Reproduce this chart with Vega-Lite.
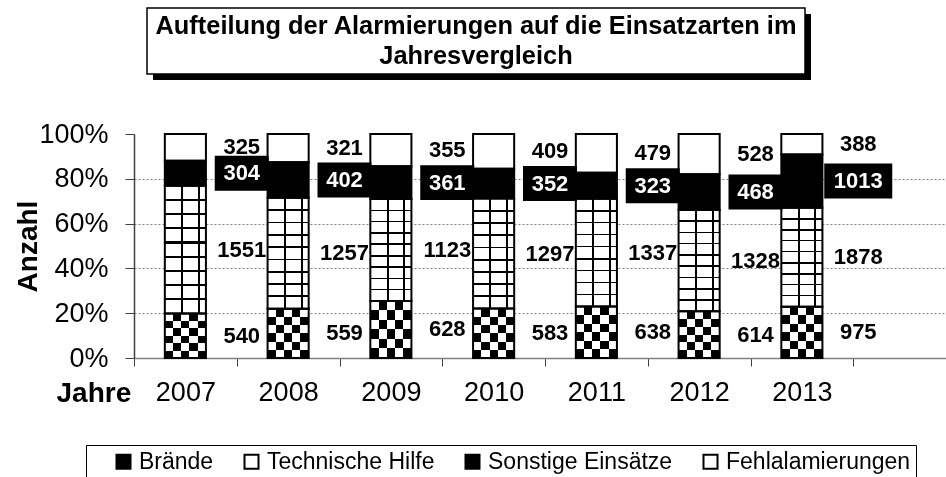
{
  "$schema": "https://vega.github.io/schema/vega-lite/v6.json",
  "background": "white",
  "padding": {"left": 13, "top": 7, "right": 0, "bottom": 0},
  "config": {"font": "Liberation Sans", "view": {"stroke": null}},
  "spacing": 40,
  "vconcat": [
    {
      "width": 680,
      "height": 66,
      "data": {"values": [{"t": 1}]},
      "layer": [
        {"mark": {"type": "rect", "fill": "black"}, "encoding": {"x": {"value": 19}, "x2": {"value": 677}, "y": {"value": 6}, "y2": {"value": 72}}},
        {"mark": {"type": "rect", "fill": "white", "stroke": "black", "strokeWidth": 1.5}, "encoding": {"x": {"value": 13}, "x2": {"value": 671}, "y": {"value": 0}, "y2": {"value": 66}}},
        {"mark": {"type": "text", "text": ["Aufteilung der Alarmierungen auf die Einsatzarten im", "Jahresvergleich"], "fontSize": 25.4, "fontWeight": "bold", "align": "center", "baseline": "alphabetic", "lineHeight": 30, "color": "black"}, "encoding": {"x": {"value": 342}, "y": {"value": 26}}}
      ]
    },
    {
      "width": 822,
      "height": 224,
      "data": {"values": [
        {"year": "2007", "typ": "Brände", "ord": 1, "n": 540},
        {"year": "2007", "typ": "Technische Hilfe", "ord": 2, "n": 1551},
        {"year": "2007", "typ": "Sonstige Einsätze", "ord": 3, "n": 304},
        {"year": "2007", "typ": "Fehlalamierungen", "ord": 4, "n": 325},
        {"year": "2008", "typ": "Brände", "ord": 1, "n": 559},
        {"year": "2008", "typ": "Technische Hilfe", "ord": 2, "n": 1257},
        {"year": "2008", "typ": "Sonstige Einsätze", "ord": 3, "n": 402},
        {"year": "2008", "typ": "Fehlalamierungen", "ord": 4, "n": 321},
        {"year": "2009", "typ": "Brände", "ord": 1, "n": 628},
        {"year": "2009", "typ": "Technische Hilfe", "ord": 2, "n": 1123},
        {"year": "2009", "typ": "Sonstige Einsätze", "ord": 3, "n": 361},
        {"year": "2009", "typ": "Fehlalamierungen", "ord": 4, "n": 355},
        {"year": "2010", "typ": "Brände", "ord": 1, "n": 583},
        {"year": "2010", "typ": "Technische Hilfe", "ord": 2, "n": 1297},
        {"year": "2010", "typ": "Sonstige Einsätze", "ord": 3, "n": 352},
        {"year": "2010", "typ": "Fehlalamierungen", "ord": 4, "n": 409},
        {"year": "2011", "typ": "Brände", "ord": 1, "n": 638},
        {"year": "2011", "typ": "Technische Hilfe", "ord": 2, "n": 1337},
        {"year": "2011", "typ": "Sonstige Einsätze", "ord": 3, "n": 323},
        {"year": "2011", "typ": "Fehlalamierungen", "ord": 4, "n": 479},
        {"year": "2012", "typ": "Brände", "ord": 1, "n": 614},
        {"year": "2012", "typ": "Technische Hilfe", "ord": 2, "n": 1328},
        {"year": "2012", "typ": "Sonstige Einsätze", "ord": 3, "n": 468},
        {"year": "2012", "typ": "Fehlalamierungen", "ord": 4, "n": 528},
        {"year": "2013", "typ": "Brände", "ord": 1, "n": 975},
        {"year": "2013", "typ": "Technische Hilfe", "ord": 2, "n": 1878},
        {"year": "2013", "typ": "Sonstige Einsätze", "ord": 3, "n": 1013},
        {"year": "2013", "typ": "Fehlalamierungen", "ord": 4, "n": 388}
      ]},
      "transform": [
        {"stack": "n", "groupby": ["year"], "sort": [{"field": "ord", "order": "ascending"}], "offset": "normalize", "as": ["y0", "y1"]}
      ],
      "layer": [
        {
          "mark": {"type": "bar", "width": {"band": 0.4}},
          "encoding": {
            "x": {"field": "year", "type": "nominal",
              "scale": {"domain": ["2007", "2008", "2009", "2010", "2011", "2012", "2013", ""], "paddingInner": 0, "paddingOuter": 0},
              "axis": {"title": "Jahre", "titleFontSize": 28, "titleFontWeight": "bold", "titleColor": "black", "titleX": -78, "titleY": 43, "titleAlign": "left", "titleBaseline": "alphabetic", "labelFontSize": 27, "labelColor": "black", "labelAngle": 0, "labelPadding": 13, "tickSize": 8, "tickColor": "#404040", "tickBand": "extent", "domainColor": "#808080", "domainWidth": 1.5, "grid": false}},
            "y": {"field": "y0", "type": "quantitative", "scale": {"domain": [0, 1]},
              "axis": {"values": [0, 0.2, 0.4, 0.6, 0.8, 1], "format": ".0%", "title": "Anzahl", "titleFontSize": 28, "titleFontWeight": "bold", "titleColor": "black", "titleAngle": -90, "titleX": -98, "titleY": 112, "titleAlign": "center", "titleBaseline": "alphabetic", "labelFontSize": 27, "labelColor": "black", "labelPadding": 17, "tickSize": 9, "tickColor": "#404040", "domainColor": "#404040", "domainWidth": 1.5, "grid": true, "gridColor": "#808080", "gridDash": [2, 2], "gridOpacity": {"condition": {"test": "datum.value >= 1 || datum.value <= 0", "value": 0}, "value": 1}}},
            "y2": {"field": "y1"},
            "fill": {"field": "typ", "type": "nominal",
              "scale": {"domain": ["Brände", "Technische Hilfe", "Sonstige Einsätze", "Fehlalamierungen"], "range": ["black", "white", "black", "white"]},
              "legend": {"orient": "none", "legendX": -48, "legendY": 437, "direction": "horizontal", "title": " ", "titleOrient": "left", "titlePadding": 21, "titleFontSize": 23, "strokeColor": "black", "padding": 5, "symbolType": "square", "symbolSize": 196, "symbolStrokeColor": "black", "symbolStrokeWidth": 2, "labelFontSize": 23, "labelOffset": 4, "columnPadding": 26, "labelLimit": 400, "labelColor": "black"}}
          }
        },
        {
          "transform": [{"filter": "datum.typ === 'Brände'"}],
          "mark": {"type": "bar", "width": {"band": 0.4}, "fill": {"gradient": "linear", "x1": 0, "y1": 0, "x2": 0, "y2": 1, "stops": [
            {"offset": 0, "color": "black"}, {"offset": 0.1667, "color": "black"},
            {"offset": 0.1667, "color": "white"}, {"offset": 0.3333, "color": "white"},
            {"offset": 0.3333, "color": "black"}, {"offset": 0.5, "color": "black"},
            {"offset": 0.5, "color": "white"}, {"offset": 0.6667, "color": "white"},
            {"offset": 0.6667, "color": "black"}, {"offset": 0.8333, "color": "black"},
            {"offset": 0.8333, "color": "white"}, {"offset": 1, "color": "white"}]}},
          "encoding": {
            "x": {"field": "year", "type": "nominal"},
            "y": {"field": "y0", "type": "quantitative"},
            "y2": {"field": "y1"}
          }
        },
        {
          "transform": [{"filter": "datum.typ === 'Brände'"}],
          "mark": {"type": "bar", "width": {"band": 0.4}, "blend": "difference", "fill": {"gradient": "linear", "x1": 0, "y1": 0, "x2": 1, "y2": 0, "stops": [
            {"offset": 0, "color": "white"}, {"offset": 0.2, "color": "white"},
            {"offset": 0.2, "color": "rgba(255,255,255,0)"}, {"offset": 0.4, "color": "rgba(255,255,255,0)"},
            {"offset": 0.4, "color": "white"}, {"offset": 0.6, "color": "white"},
            {"offset": 0.6, "color": "rgba(255,255,255,0)"}, {"offset": 0.8, "color": "rgba(255,255,255,0)"},
            {"offset": 0.8, "color": "white"}, {"offset": 1, "color": "white"}]}},
          "encoding": {
            "x": {"field": "year", "type": "nominal"},
            "y": {"field": "y0", "type": "quantitative"},
            "y2": {"field": "y1"}
          }
        },
        {
          "transform": [{"filter": "datum.typ === 'Technische Hilfe'"}],
          "mark": {"type": "bar", "width": {"band": 0.4}, "fill": {"gradient": "linear", "x1": 0, "y1": 0, "x2": 0, "y2": 1, "stops": [
            {"offset": 0, "color": "white"},
            {"offset": 0.103, "color": "white"}, {"offset": 0.103, "color": "black"}, {"offset": 0.119, "color": "black"}, {"offset": 0.119, "color": "white"},
            {"offset": 0.214, "color": "white"}, {"offset": 0.214, "color": "black"}, {"offset": 0.230, "color": "black"}, {"offset": 0.230, "color": "white"},
            {"offset": 0.325, "color": "white"}, {"offset": 0.325, "color": "black"}, {"offset": 0.341, "color": "black"}, {"offset": 0.341, "color": "white"},
            {"offset": 0.436, "color": "white"}, {"offset": 0.436, "color": "black"}, {"offset": 0.452, "color": "black"}, {"offset": 0.452, "color": "white"},
            {"offset": 0.548, "color": "white"}, {"offset": 0.548, "color": "black"}, {"offset": 0.564, "color": "black"}, {"offset": 0.564, "color": "white"},
            {"offset": 0.659, "color": "white"}, {"offset": 0.659, "color": "black"}, {"offset": 0.675, "color": "black"}, {"offset": 0.675, "color": "white"},
            {"offset": 0.770, "color": "white"}, {"offset": 0.770, "color": "black"}, {"offset": 0.786, "color": "black"}, {"offset": 0.786, "color": "white"},
            {"offset": 0.881, "color": "white"}, {"offset": 0.881, "color": "black"}, {"offset": 0.897, "color": "black"}, {"offset": 0.897, "color": "white"},
            {"offset": 1, "color": "white"}]}},
          "encoding": {
            "x": {"field": "year", "type": "nominal"},
            "y": {"field": "y0", "type": "quantitative"},
            "y2": {"field": "y1"}
          }
        },
        {
          "transform": [{"filter": "datum.typ === 'Technische Hilfe'"}],
          "mark": {"type": "bar", "width": {"band": 0.4}, "fill": {"gradient": "linear", "x1": 0, "y1": 0, "x2": 1, "y2": 0, "stops": [
            {"offset": 0, "color": "rgba(0,0,0,0)"}, {"offset": 0.395, "color": "rgba(0,0,0,0)"},
            {"offset": 0.395, "color": "black"}, {"offset": 0.445, "color": "black"},
            {"offset": 0.445, "color": "rgba(0,0,0,0)"}, {"offset": 0.805, "color": "rgba(0,0,0,0)"},
            {"offset": 0.805, "color": "black"}, {"offset": 0.855, "color": "black"},
            {"offset": 0.855, "color": "rgba(0,0,0,0)"}, {"offset": 1, "color": "rgba(0,0,0,0)"}]}},
          "encoding": {
            "x": {"field": "year", "type": "nominal"},
            "y": {"field": "y0", "type": "quantitative"},
            "y2": {"field": "y1"}
          }
        },
        {
          "mark": {"type": "bar", "width": {"band": 0.4}, "fill": "transparent", "stroke": "black", "strokeWidth": 2},
          "encoding": {
            "x": {"field": "year", "type": "nominal"},
            "y": {"field": "y0", "type": "quantitative"},
            "y2": {"field": "y1"}
          }
        },
        {
          "mark": {"type": "point", "filled": true, "opacity": 1, "strokeWidth": 0},
          "encoding": {
            "x": {"field": "year", "type": "nominal", "bandPosition": 1},
            "y": {"field": "n", "type": "quantitative", "stack": "normalize", "bandPosition": 0.5},
            "order": {"field": "ord"},
            "detail": {"field": "typ"},
            "fill": {"condition": {"test": "datum.typ === 'Sonstige Einsätze'", "value": "black"}, "value": "transparent"},
            "shape": {"condition": {"test": "datum.n >= 1000", "value": "M-0.853,-0.515H1.147V0.515H-0.853Z"}, "value": "M-0.815,-0.648H1.185V0.648H-0.815Z"},
            "size": {"condition": {"test": "datum.n >= 1000", "value": 4624}, "value": 2916}
          }
        },
        {
          "mark": {"type": "text", "fontSize": 22, "fontWeight": "bold", "dx": 5, "baseline": "middle", "align": "center"},
          "encoding": {
            "x": {"field": "year", "type": "nominal", "bandPosition": 1},
            "y": {"field": "n", "type": "quantitative", "stack": "normalize", "bandPosition": 0.5},
            "order": {"field": "ord"},
            "detail": {"field": "typ"},
            "text": {"field": "n", "type": "quantitative", "format": "d"},
            "color": {"condition": {"test": "datum.typ === 'Sonstige Einsätze'", "value": "white"}, "value": "black"}
          }
        }
      ]
    }
  ]
}
